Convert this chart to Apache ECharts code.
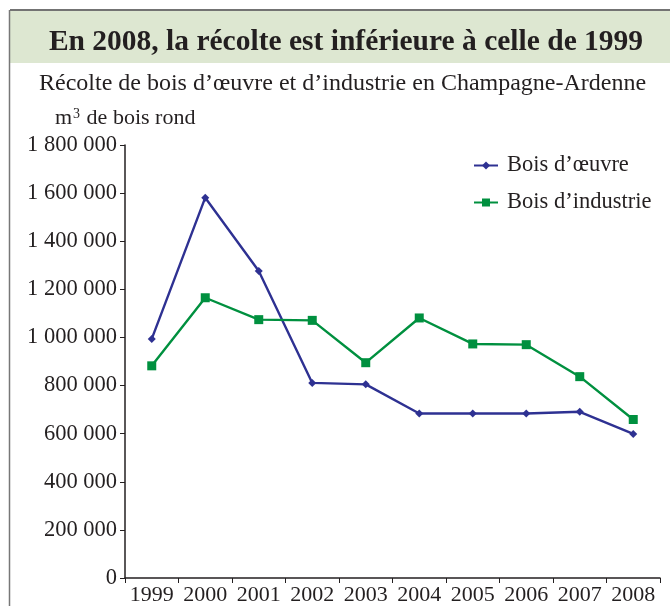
<!DOCTYPE html>
<html><head><meta charset="utf-8">
<script src="https://cdn.jsdelivr.net/npm/echarts@6/dist/echarts.min.js"></script>
<style>html,body{margin:0;padding:0;background:#fff}#c{width:670px;height:606px}</style>
</head><body><div id="c"></div>
<script>
const years = ['1999','2000','2001','2002','2003','2004','2005','2006','2007','2008'];
const boisOeuvre = [994000, 1581000, 1276000, 811000, 805000, 684000, 684000, 684000, 691000, 599000];
const boisIndustrie = [882000, 1165000, 1074000, 1071000, 895000, 1081000, 973000, 970000, 837000, 659000];
const yTicks = [0, 200000, 400000, 600000, 800000, 1000000, 1200000, 1400000, 1600000, 1800000];

const FONT = '"Liberation Serif", "DejaVu Serif", serif';
const chart = echarts.init(document.getElementById('c'));
function fmt(v){ return String(v).replace(/\B(?=(\d{3})+(?!\d))/g, ' '); }
chart.setOption({
  animation: false,
  backgroundColor: '#fff',
  graphic: [
    {type:'rect', shape:{x:10, y:11, width:670, height:52}, style:{fill:'#dde7d1'}, z:-1},
    {type:'line', shape:{x1:10, y1:10, x2:680, y2:10}, style:{stroke:'#444', lineWidth:1.5}},
    {type:'line', shape:{x1:9.5, y1:10, x2:9.5, y2:610}, style:{stroke:'#777', lineWidth:1.5}}
  ],
  title: [
    {text:'En 2008, la récolte est inférieure à celle de 1999', left: 341, textAlign:'center', top: 22,
     textStyle:{fontFamily:FONT, fontWeight:'bold', fontSize:29.5, color:'#231f20'}},
    {text:'Récolte de bois d’œuvre et d’industrie en Champagne-Ardenne', left: 34, top: 67,
     textStyle:{fontFamily:FONT, fontWeight:'normal', fontSize:24, color:'#231f20'}},
    {text:'{a|m}{s|3}{a| de bois rond}', left: 50, top: 102,
     textStyle:{fontWeight:'normal', rich:{a:{fontFamily:FONT, fontWeight:'normal', fontSize:22, color:'#231f20'}, s:{fontFamily:FONT, fontWeight:'normal', fontSize:14, color:'#231f20', verticalAlign:'top', padding:[0,1,8,1]}}}}
  ],
  legend: {
    orient:'vertical', left: 468, top: 149, itemGap: 14, itemWidth: 24, itemHeight: 10,
    textStyle:{fontFamily:FONT, fontSize:22.5, color:'#231f20', padding:[0,0,0,4]},
    data:[{name:'Bois d’œuvre'}, {name:'Bois d’industrie'}]
  },
  grid: {left:125, right:10, top:145, bottom:27},
  xAxis: {
    type:'category', data: years, boundaryGap:true,
    axisLine:{lineStyle:{color:'#231f20', width:1.5}},
    axisTick:{show:true, length:5, inside:false, lineStyle:{color:'#231f20'}},
    axisLabel:{fontFamily:FONT, fontSize:22, color:'#231f20', margin:6, interval:0}
  },
  yAxis: {
    type:'value', min:0, max:1800000, interval:200000,
    axisLine:{show:true, lineStyle:{color:'#231f20', width:1.5}},
    axisTick:{show:true, length:5, lineStyle:{color:'#231f20'}},
    splitLine:{show:false},
    axisLabel:{fontFamily:FONT, fontSize:22.5, color:'#231f20', margin:8, formatter: v => fmt(v)}
  },
  series: [
    {name:'Bois d’œuvre', type:'line', data: boisOeuvre, symbol:'diamond', symbolSize:8,
     lineStyle:{color:'#2e3192', width:2.4}, itemStyle:{color:'#2e3192'}},
    {name:'Bois d’industrie', type:'line', data: boisIndustrie, symbol:'rect', symbolSize:9,
     lineStyle:{color:'#00903f', width:2.4}, itemStyle:{color:'#00903f'}}
  ]
});
</script></body></html>
